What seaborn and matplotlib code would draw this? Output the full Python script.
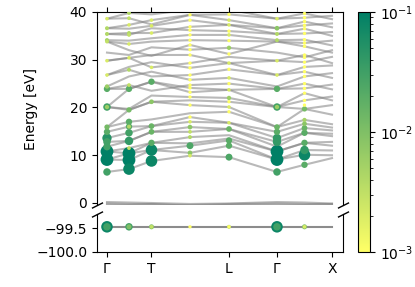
import matplotlib
matplotlib.use("Agg")
import matplotlib.pyplot as plt
from matplotlib.colors import LogNorm, Normalize
from matplotlib.cm import ScalarMappable
import pandas as pd
import seaborn as sns

# k-path nodes: Γ, Γ-T, T, T-L, L, Γ, Γ-X, X
k_nodes = [0.0, 0.22, 0.445, 0.83, 1.22, 1.70, 1.975, 2.25]
tick_pos = [0.0, 0.445, 1.22, 1.70, 2.25]
tick_labels = ["Γ", "T", "L", "Γ", "X"]

# band energies (eV) at each k node
bands = [
    [0.2, 0.1, 0.0, -0.2, -0.1, 0.2, 0.1, -0.1],
    [-0.1, -0.2, -0.3, -0.4, -0.2, -0.1, -0.2, -0.3],
    [-0.3, -0.4, -0.2, -0.6, -0.4, -0.3, -0.4, -0.2],
    [6.5, 7.1, 8.8, 9.9, 9.6, 6.5, 8.0, 9.4],
    [9.1, 9.0, 11.1, 10.5, 12.0, 9.1, 10.1, 10.0],
    [9.1, 10.4, 11.1, 12.0, 13.1, 9.1, 11.1, 11.0],
    [10.8, 10.4, 12.6, 12.5, 13.5, 10.8, 12.6, 12.0],
    [10.8, 11.5, 12.6, 13.8, 14.2, 10.8, 12.6, 12.8],
    [11.8, 13.0, 14.9, 14.9, 15.5, 11.8, 14.7, 14.0],
    [12.8, 13.0, 14.9, 15.9, 15.5, 12.8, 14.7, 14.5],
    [13.6, 14.7, 16.1, 17.0, 16.8, 13.6, 15.7, 15.2],
    [14.9, 16.0, 16.1, 18.0, 16.8, 14.9, 16.6, 15.8],
    [15.9, 17.0, 17.5, 18.8, 19.1, 15.9, 17.4, 16.5],
    [15.9, 19.5, 21.2, 20.5, 20.1, 15.9, 19.7, 18.5],
    [20.1, 19.5, 21.2, 21.5, 21.2, 20.1, 19.7, 20.5],
    [20.1, 19.7, 22.5, 22.2, 22.0, 20.1, 21.5, 22.3],
    [20.1, 23.9, 25.4, 23.2, 23.7, 20.1, 23.0, 21.5],
    [23.9, 23.9, 25.4, 24.1, 23.7, 23.9, 24.0, 24.8],
    [23.9, 24.7, 23.5, 24.7, 25.0, 23.9, 25.0, 23.8],
    [24.4, 26.5, 27.5, 25.8, 26.2, 24.4, 26.5, 27.2],
    [26.8, 27.9, 26.5, 26.8, 28.0, 26.8, 27.5, 26.2],
    [26.8, 28.5, 29.5, 28.3, 29.3, 26.8, 28.5, 28.8],
    [29.8, 30.4, 28.4, 29.3, 30.6, 29.8, 31.0, 29.3],
    [29.8, 30.4, 31.0, 31.0, 29.3, 29.8, 29.5, 30.6],
    [31.5, 31.0, 32.6, 32.1, 32.5, 31.5, 30.5, 32.0],
    [33.8, 32.0, 30.8, 33.1, 31.2, 33.8, 32.8, 31.5],
    [33.8, 33.3, 33.8, 34.1, 34.0, 33.8, 33.5, 34.0],
    [34.1, 34.0, 34.5, 35.2, 35.2, 34.1, 34.2, 33.0],
    [35.4, 35.2, 36.6, 36.2, 36.0, 35.4, 35.5, 35.8],
    [35.4, 35.6, 35.6, 36.9, 37.3, 35.4, 36.5, 35.0],
    [36.6, 36.5, 37.1, 38.3, 37.3, 36.6, 37.2, 37.6],
    [36.6, 37.3, 38.3, 39.4, 38.3, 36.6, 38.0, 36.8],
    [38.6, 38.7, 37.4, 39.4, 39.5, 38.6, 38.8, 39.2],
    [38.6, 39.8, 39.5, 40.5, 40.5, 38.6, 39.7, 38.5],
    [40.5, 40.8, 40.3, 41.0, 41.0, 40.5, 40.6, 40.8],
]
core_band = -99.47

# projected weights: k-node index, energy, weight
pt_k = ([0] * 19 + [1] * 20 + [2] * 11 + [3] * 26 + [4] * 22 + [5] * 16 + [6] * 29)
pt_e = [
    # Γ
    38.6, 36.6, 35.4, 34.1, 33.8, 29.8, 26.8, 24.4, 23.9, 20.1, 20.1,
    15.9, 14.9, 13.6, 12.8, 11.8, 10.8, 9.1, 6.5,
    # Γ-T
    39.8, 38.7, 37.3, 35.6, 35.2, 33.3, 30.4, 27.9, 24.7, 23.9, 19.5,
    17.0, 16.0, 16.0, 14.7, 13.0, 11.5, 10.4, 9.0, 7.1,
    # T
    38.3, 37.1, 35.6, 28.4, 25.4, 21.2, 16.1, 14.9, 12.6, 11.1, 8.8,
    # T-L
    39.4, 38.3, 36.9, 36.2, 35.2, 34.1, 33.1, 32.1, 31.0, 29.3, 28.3,
    26.8, 25.8, 24.7, 24.1, 23.2, 22.2, 20.5, 18.0, 17.0, 15.9, 14.9,
    13.8, 12.0, 10.5, 9.9,
    # L
    39.5, 38.3, 37.3, 36.0, 35.2, 34.0, 32.5, 31.2, 29.3, 28.0, 26.2,
    25.0, 23.7, 22.0, 21.2, 20.1, 19.1, 16.8, 15.5, 13.1, 12.0, 9.6,
    # Γ
    38.6, 36.6, 35.4, 34.1, 29.8, 26.8, 23.9, 20.1, 20.1, 15.9, 14.9,
    13.6, 12.8, 10.8, 9.1, 6.5,
    # Γ-X
    39.7, 38.8, 38.0, 37.2, 36.5, 35.5, 34.2, 33.5, 32.8, 31.0, 30.5,
    29.5, 28.5, 27.5, 26.5, 25.0, 24.0, 23.0, 21.5, 20.5, 19.7, 17.4,
    16.6, 15.7, 14.7, 12.6, 11.1, 10.1, 8.0,
]
pt_w = [
    0.002, 0.004, 0.004, 0.005, 0.003, 0.002, 0.002, 0.006, 0.02, 0.03, 0.006,
    0.012, 0.02, 0.05, 0.03, 0.03, 0.1, 0.1, 0.03,
    0.004, 0.003, 0.002, 0.004, 0.003, 0.002, 0.002, 0.004, 0.003, 0.02, 0.012,
    0.02, 0.02, 0.004, 0.03, 0.04, 0.003, 0.1, 0.1, 0.08,
    0.002, 0.002, 0.002, 0.002, 0.02, 0.008, 0.015, 0.015, 0.02, 0.08, 0.08,
    0.001, 0.001, 0.001, 0.001, 0.001, 0.001, 0.001, 0.001, 0.001, 0.001, 0.001,
    0.001, 0.001, 0.001, 0.001, 0.001, 0.001, 0.001, 0.001, 0.002, 0.008, 0.003,
    0.004, 0.025, 0.008, 0.002,
    0.001, 0.002, 0.002, 0.001, 0.002, 0.001, 0.006, 0.001, 0.002, 0.001, 0.002,
    0.001, 0.002, 0.006, 0.001, 0.002, 0.001, 0.002, 0.015, 0.02, 0.02, 0.025,
    0.002, 0.008, 0.004, 0.004, 0.002, 0.002, 0.02, 0.03, 0.006, 0.015, 0.02,
    0.04, 0.04, 0.1, 0.1, 0.03,
    0.001, 0.001, 0.001, 0.001, 0.001, 0.001, 0.001, 0.001, 0.001, 0.001, 0.001,
    0.001, 0.001, 0.001, 0.001, 0.001, 0.001, 0.001, 0.001, 0.001, 0.012, 0.005,
    0.008, 0.015, 0.02, 0.02, 0.04, 0.08, 0.02,
]

# core level weights (bottom panel)
core_k = [0, 0, 1, 1, 2, 2, 3, 4, 4, 5, 5, 6, 6]
core_w = [0.08, 0.03, 0.03, 0.01, 0.01, 0.003, 0.001, 0.004, 0.001,
          0.08, 0.03, 0.01, 0.002]

cmap = "summer_r"
norm = LogNorm(1e-3, 1e-1)
size_norm = Normalize(0, 0.1)
point_sizes = (5, 85)


def band_frame(rows):
    recs = []
    for b, row in enumerate(rows):
        for k, e in zip(k_nodes, row):
            recs.append({"band": b, "k": k, "E": e})
    return pd.DataFrame(recs)


def point_frame(ks, es, ws):
    df = pd.DataFrame({"k": [k_nodes[i] for i in ks], "E": es, "w": ws})
    return df.sort_values("w", ascending=False)


fig = plt.figure(figsize=(4.15, 2.87), dpi=100)
ax_top = fig.add_axes([0.2337, 0.2857, 0.5928, 0.6725])
ax_bot = fig.add_axes([0.2337, 0.1220, 0.5928, 0.1324])
cax = fig.add_axes([0.8627, 0.1220, 0.0289, 0.8362])

sns.lineplot(data=band_frame(bands), x="k", y="E", units="band", estimator=None,
             color="gray", alpha=0.55, lw=1.5, ax=ax_top, legend=False)
sns.scatterplot(data=point_frame(pt_k, pt_e, pt_w), x="k", y="E", hue="w",
                size="w", palette=cmap, hue_norm=norm, sizes=point_sizes,
                size_norm=size_norm, linewidth=0, ax=ax_top, legend=False,
                zorder=3)

ax_bot.plot([k_nodes[0], k_nodes[-1]], [core_band, core_band], color="gray",
            lw=1.5, alpha=0.9)
sns.scatterplot(data=point_frame(core_k, [core_band] * len(core_k), core_w),
                x="k", y="E", hue="w", size="w", palette=cmap, hue_norm=norm,
                sizes=point_sizes, size_norm=size_norm, linewidth=0, ax=ax_bot,
                legend=False, zorder=3)

for ax in (ax_top, ax_bot):
    ax.set_xlim(-0.10, 2.36)
    ax.set_xticks(tick_pos)
    ax.set_xlabel("")
    ax.set_ylabel("")

ax_top.set_ylim(-0.42, 40)
ax_top.set_yticks([0, 10, 20, 30, 40])
ax_bot.set_ylim(-100, -99.2)
ax_bot.set_yticks([-100.0, -99.5])
ax_bot.set_yticklabels(["\u2212100.0", "\u221299.5"])

ax_top.spines["bottom"].set_visible(False)
ax_bot.spines["top"].set_visible(False)
ax_top.xaxis.tick_top()
ax_top.tick_params(labeltop=False)
ax_bot.xaxis.tick_bottom()
ax_bot.set_xticklabels(tick_labels)

ax_top.set_ylabel("Energy [eV]")
ax_top.yaxis.set_label_coords(-0.24, 0.5)

# break marks
d = 0.5
kw = dict(marker=[(-1, -d), (1, d)], markersize=8, linestyle="none",
          color="k", mec="k", mew=1, clip_on=False)
ax_top.plot([0, 1], [0, 0], transform=ax_top.transAxes, **kw)
ax_bot.plot([0, 1], [1, 1], transform=ax_bot.transAxes, **kw)

sm = ScalarMappable(norm=norm, cmap=cmap)
fig.colorbar(sm, cax=cax)

fig.savefig("out.png", dpi=100)
